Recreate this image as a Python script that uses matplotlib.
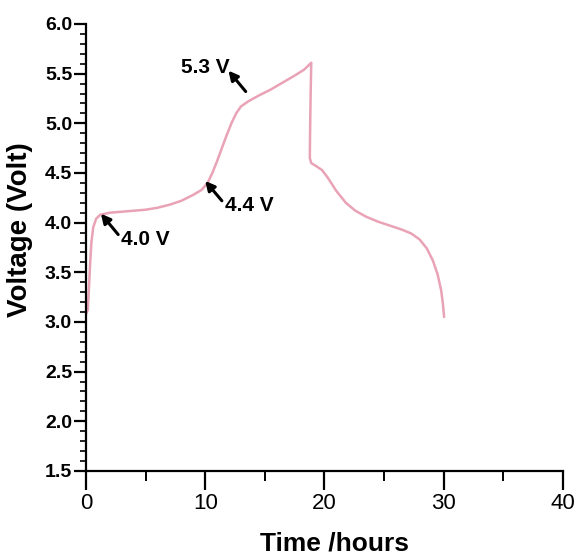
import matplotlib
matplotlib.use("Agg")
import matplotlib.pyplot as plt
from matplotlib.ticker import MultipleLocator

# ---- data ----
charge_time = [0.0, 0.15, 0.25, 0.35, 0.45, 0.6, 0.85, 1.2, 2.0, 3.0, 4.0, 5.0,
               6.0, 7.0, 8.0, 9.0, 9.7, 10.2, 10.6, 11.0, 11.4, 11.8, 12.2,
               12.6, 13.0, 13.6, 14.5, 15.5, 16.5, 17.5, 18.3, 18.9]
charge_volt = [3.08, 3.12, 3.35, 3.60, 3.80, 3.95, 4.04, 4.08, 4.10, 4.11, 4.12,
               4.13, 4.15, 4.18, 4.22, 4.28, 4.33, 4.40, 4.50, 4.62, 4.75, 4.88,
               5.00, 5.10, 5.17, 5.22, 5.28, 5.34, 5.41, 5.48, 5.54, 5.61]
discharge_time = [18.9, 18.85, 18.8, 18.78, 18.9, 19.3, 19.8, 20.3, 21.0, 21.8,
                  22.6, 23.5, 24.5, 25.5, 26.5, 27.3, 28.0, 28.6, 29.1, 29.5,
                  29.8, 29.95, 30.05]
discharge_volt = [5.61, 5.30, 4.90, 4.65, 4.60, 4.57, 4.53, 4.45, 4.32, 4.20,
                  4.12, 4.06, 4.01, 3.97, 3.93, 3.89, 3.83, 3.74, 3.62, 3.48,
                  3.32, 3.18, 3.05]

annot_labels = ["4.0 V", "4.4 V", "5.3 V"]
arrow_tips = [(1.25, 4.09), (10.0, 4.42), (11.95, 5.53)]
arrow_tails = [(2.7, 3.88), (11.4, 4.22), (13.4, 5.32)]
label_pos = [(2.95, 3.83), (11.65, 4.17), (8.0, 5.56)]

x_lim = (0, 40)
y_lim = (1.5, 6.0)
x_label = "Time /hours"
y_label = "Voltage (Volt)"

font = "Liberation Sans"

fig = plt.figure(figsize=(5.75, 5.58), dpi=100)
ax = fig.add_axes([0.1496, 0.156, 0.829, 0.801])

time_all = charge_time + discharge_time[1:]
volt_all = charge_volt + discharge_volt[1:]
ax.plot(time_all, volt_all, color="#e9a2b6", lw=1.8,
        solid_joinstyle="round", solid_capstyle="round")

ax.set_xlim(*x_lim)
ax.set_ylim(*y_lim)

for s in ["top", "right"]:
    ax.spines[s].set_visible(False)
for s in ["left", "bottom"]:
    ax.spines[s].set_linewidth(1.6)

ax.xaxis.set_major_locator(MultipleLocator(10))
ax.xaxis.set_minor_locator(MultipleLocator(5))
ax.yaxis.set_major_locator(MultipleLocator(0.5))
ax.yaxis.set_minor_locator(MultipleLocator(0.1))

ax.tick_params(axis="x", which="major", length=14, width=1.6, direction="out", pad=2)
ax.tick_params(axis="x", which="minor", length=7, width=1.4, direction="out")
ax.tick_params(axis="y", which="major", length=9, width=1.6, direction="out", pad=1)
ax.tick_params(axis="y", which="minor", length=4, width=1.2, direction="out")

xt = [0, 10, 20, 30, 40]
ax.set_xticks(xt)
ax.set_xticklabels([str(v) for v in xt], fontfamily=font, fontsize=16)
yt = [1.5, 2.0, 2.5, 3.0, 3.5, 4.0, 4.5, 5.0, 5.5, 6.0]
ax.set_yticks(yt)
ax.set_yticklabels([f"{v:.1f}" for v in yt], fontfamily=font, fontsize=14,
                   fontweight="bold")

ax.set_xlabel(x_label, fontfamily=font, fontsize=19, fontweight="bold")
ax.xaxis.set_label_coords(0.522, -0.135)
ax.xaxis.label.set_va("top")
ax.set_ylabel(y_label, fontfamily=font, fontsize=20, fontweight="bold")
ax.yaxis.set_label_coords(-0.112, 0.54)

for lab, tip, tail, pos in zip(annot_labels, arrow_tips, arrow_tails, label_pos):
    ax.annotate("", xy=tip, xytext=tail, textcoords="data",
                arrowprops=dict(arrowstyle="-|>,head_length=0.55,head_width=0.28",
                                color="black", lw=2.2, shrinkA=0, shrinkB=0))
    ax.text(pos[0], pos[1], lab, fontfamily=font, fontsize=15, fontweight="bold",
            ha="left", va="center")

fig.savefig("out.png", dpi=100)
